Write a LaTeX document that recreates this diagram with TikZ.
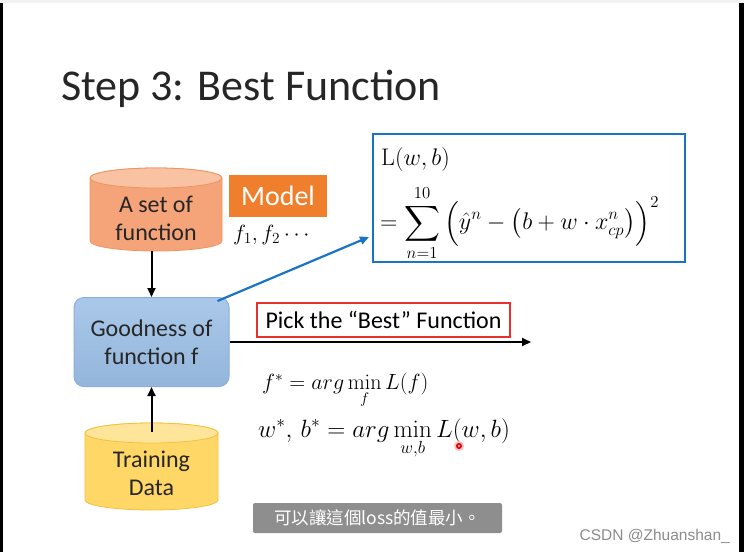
\RequirePackage{fix-cm}
\documentclass[tikz,border=0pt]{standalone}
\usepackage{amsmath}
\usepackage[no-math]{fontspec}
\setmainfont{Carlito}
\newfontfamily\cjkfont{Noto Sans CJK TC}
\newfontfamily\wmfont{Liberation Sans}
\usetikzlibrary{arrows.meta,calc}
\definecolor{cylAbody}{HTML}{F5A47A}
\definecolor{cylAtop}{HTML}{F9C2A2}
\definecolor{cylAline}{HTML}{EE9462}
\definecolor{cylBbody}{HTML}{FFD766}
\definecolor{cylBtop}{HTML}{FFE59A}
\definecolor{cylBline}{HTML}{F4C13E}
\definecolor{goodfill}{HTML}{9BBFE6}
\definecolor{goodline}{HTML}{8AAEDD}
\definecolor{modelfill}{HTML}{EF7F2D}
\definecolor{fblue}{HTML}{1A74C4}
\definecolor{pickred}{HTML}{E8302C}
\definecolor{subgray}{HTML}{8E8E8E}
\tikzset{
  txt24/.style={font=\fontsize{24}{28}\selectfont},
  goodbox/.style={draw=goodline, line width=1pt, top color=goodfill!85!white, bottom color=goodfill!95!black, rounded corners=10pt, minimum width=155pt, minimum height=89pt, align=center, txt24, text=black!85},
  modelbox/.style={fill=modelfill, minimum width=98pt, minimum height=42pt, text=white, font=\fontsize{28}{32}\selectfont, inner sep=0pt},
  fbox/.style={draw=fblue, line width=2.5pt, minimum width=312pt, minimum height=128pt},
  pickbox/.style={draw=pickred, line width=2.5pt, minimum width=253pt, minimum height=34pt, txt24, inner sep=0pt},
  subbox/.style={fill=subgray, rounded corners=2pt, minimum width=249pt, minimum height=30pt, text=white, font=\fontsize{17.5}{20}\selectfont\cjkfont, inner sep=0pt},
  arr/.style={line width=2pt, -{Triangle[length=9pt,width=8pt]}},
  bluearr/.style={draw=fblue, line width=2.2pt, -{Triangle[length=9pt,width=8pt]}},
  cyltext/.style={align=center, txt24, text=black!85},
  mathtxt/.style={inner sep=0pt, font=\fontsize{22}{26}\selectfont},
  mathbig/.style={inner sep=0pt, font=\fontsize{24}{28}\selectfont},
  mathwide/.style={inner sep=0pt, font=\fontsize{25}{29}\selectfont}
}
\begin{document}
\begin{tikzpicture}[x=1pt,y=-1pt]
\useasboundingbox (0,0) rectangle (744,552);
\fill[white] (0,0) rectangle (744,552);
\fill[black!5] (0,0) rectangle (744,3);
\fill[black] (0,3) rectangle (2.5,552);
\fill[black] (739,3) rectangle (744,552);

% title
\node[anchor=base west, inner sep=0pt, font=\fontsize{44}{50}\selectfont, text=black!85] (title) at (61,100) {Step 3: Best Function};

% cylinder A
\path[fill=cylAbody, draw=cylAline, line width=0.8pt] (90,178) -- (90,241) arc[start angle=180,end angle=0,x radius=66,y radius=10] -- (222,178) arc[start angle=0,end angle=-180,x radius=66,y radius=10] -- cycle;
\draw[fill=cylAtop, draw=cylAline, line width=0.8pt] (156,178) ellipse[x radius=66, y radius=10];
\node[cyltext] (cylA) at (156,218) {A set of\\function};
\coordinate (cylAbot) at (153,251);

% model
\node[modelbox] (model) at (278,196) {Model};
\node[anchor=base west, mathtxt] (fs) at (233,240) {$f_1, f_2\cdots$};

% goodness
\node[goodbox] (good) at (151.5,342) {Goodness of\\function f};

% cylinder B
\path[fill=cylBbody, draw=cylBline, line width=0.8pt] (85,433) -- (85,500) arc[start angle=180,end angle=0,x radius=66.5,y radius=10] -- (218,433) arc[start angle=0,end angle=-180,x radius=66.5,y radius=10] -- cycle;
\draw[fill=cylBtop, draw=cylBline, line width=0.8pt] (151.5,433) ellipse[x radius=66.5, y radius=10];
\node[cyltext] (cylB) at (151.5,473) {Training\\Data};
\coordinate (cylBtopc) at (151.5,432);

% arrows
\draw[arr] (good.north |- cylAbot) -- (good.north);
\draw[arr] (cylBtopc) -- (good.south);

% formula box
\node[fbox] (fb) at (529,198) {};
\node[anchor=base west, mathbig] (Lwb) at (381,165) {$\mathrm{L}(w,b)$};
\node[anchor=west, mathbig] (sumf) at (380,223) {$\displaystyle =\sum_{n=1}^{10}\Big(\hat{y}^n-\big(b+w\cdot x^n_{cp}\big)\Big)^2$};
\coordinate (fbin) at (369,237);
\draw[bluearr] ($(good.north east)+(-12,4)$) -- (fbin);

% pick
\node[pickbox] (pick) at (383.5,320) {Pick the “Best” Function};
\coordinate (pickend) at (531,342);
\draw[arr] (good.east) -- (pickend);

\node[anchor=base west, mathtxt] (fstar) at (262,389) {$f^* = arg\min\limits_f L(f)$};
\node[anchor=base west, mathwide] (wstar) at (258,437) {$w^*,\,b^* = arg\min\limits_{w,b} L(w,b)$};

% pointer dot
\fill[red!25] (459,446) circle (5);
\fill[red!85!black] (459,446) circle (3);
\fill[red!35] (459,446) circle (1.3);

% subtitle
\node[subbox] (sub) at (377.5,518) {可以讓這個loss的值最小。};
\node[anchor=base east, inner sep=0pt, text=black!45, font=\fontsize{15.5}{18}\selectfont\wmfont] (wm) at (730,540) {CSDN @Zhuanshan\_};
\end{tikzpicture}
\end{document}
